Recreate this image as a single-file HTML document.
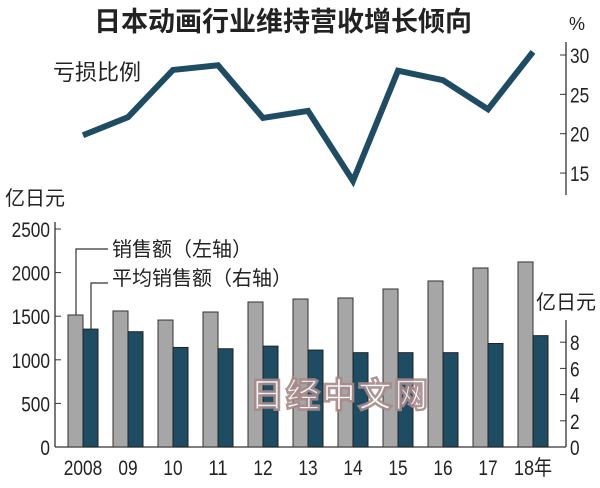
<!DOCTYPE html>
<html><head><meta charset="utf-8"><style>
body{margin:0;background:#fff}
svg text{font-family:"Liberation Sans","Noto Sans CJK SC",sans-serif;fill:#222}
.cjk{font-family:"Liberation Sans","Noto Sans CJK SC",sans-serif}
</style></head><body>
<svg id="c" width="600" height="483" viewBox="0 0 600 483" xmlns="http://www.w3.org/2000/svg">
<text class="cjk" x="283" y="31" font-size="27" font-weight="bold" text-anchor="middle">日本动画行业维持营收增长倾向</text>
<text x="577" y="30" font-size="18" text-anchor="middle">%</text>
<text class="cjk" x="53" y="80" font-size="22">亏损比例</text>
<text class="cjk" x="5" y="205" font-size="20">亿日元</text>
<text class="cjk" x="536" y="309" font-size="20">亿日元</text>
<text class="cjk" x="112" y="256" font-size="20">销售额（左轴）</text>
<text class="cjk" x="112" y="285" font-size="20">平均销售额（右轴）</text>
<g id="marks"></g>
<g opacity="0.9"><text class="cjk" x="340" y="407" font-size="34" font-weight="bold" text-anchor="middle" style="fill:#fff;stroke:#a88a8a;stroke-width:2.5;letter-spacing:2px">日经中文网</text></g>
</svg>
<script>
const years=["2008","09","10","11","12","13","14","15","16","17","18年"];
const sales=[1514,1560,1456,1548,1663,1697,1709,1812,1904,2053,2122];
const avgSales=[9.0,8.8,7.6,7.5,7.7,7.4,7.2,7.2,7.2,7.9,8.5];
const lossRatio=[19.8,22.1,28.1,28.7,22.0,22.9,14.0,28.0,26.8,23.1,30.4];
const leftTicks=[0,500,1000,1500,2000,2500];
const rightTicks=[0,2,4,6,8];
const lineTicks=[15,20,25,30];
const NS="http://www.w3.org/2000/svg";
const g=document.getElementById('marks');
function el(t,a,p){const e=document.createElementNS(NS,t);for(const k in a)e.setAttribute(k,a[k]);(p||g).appendChild(e);return e;}
function txt(s,a){const t=el('text',a);t.textContent=s;const n=String(s).replace('年','').length;t.setAttribute('textLength',n*9.6+(String(s).includes('年')?19:0));t.setAttribute('lengthAdjust','spacingAndGlyphs');return t;}
const base=447;
const yL=v=>base-v*0.0872;
const yR=v=>base-v*13.1;
const yP=v=>55+(30-v)*7.87;
const xG=i=>68+45*i;
let a=el('line',{x1:55,y1:222,x2:55,y2:base,stroke:'#333','stroke-width':1.3});


a=el('line',{x1:55,y1:base,x2:566,y2:base,stroke:'#333','stroke-width':1.3});


a=el('line',{x1:566,y1:320,x2:566,y2:base,stroke:'#333','stroke-width':1.3});


a=el('line',{x1:566,y1:42,x2:566,y2:195,stroke:'#333','stroke-width':1.3});


leftTicks.forEach(v=>{
 const y=yL(v);
 el('line',{x1:55,y1:y,x2:61,y2:y,stroke:'#333'});
 const t=txt(v,{x:50,y:y+8,'font-size':21,'text-anchor':'end'});
 
 
});
rightTicks.forEach(v=>{
 const y=yR(v);
 el('line',{x1:560,y1:y,x2:566,y2:y,stroke:'#333'});
 const t=txt(v,{x:570,y:y+8,'font-size':21});
 
 
});
lineTicks.forEach(v=>{
 const y=yP(v);
 el('line',{x1:560,y1:y,x2:566,y2:y,stroke:'#333'});
 const t=txt(v,{x:570,y:y+8,'font-size':21});
 
 
});
years.forEach((yr,i)=>{
 const x=xG(i);
 let r=el('rect',{x:x,y:yL(sales[i]),width:15,height:base-yL(sales[i]),fill:'#a6a6a6',stroke:'#333','stroke-width':1});
 
 
 r=el('rect',{x:x+15,y:yR(avgSales[i]),width:15,height:base-yR(avgSales[i]),fill:'#1e4c62',stroke:'#222','stroke-width':1});
 
 
 const t=txt(yr,{x:x+15,y:475,'font-size':21,'text-anchor':'middle'});
 
 
});
let l=el('polyline',{points:`${xG(0)+8},${yL(sales[0])} ${xG(0)+8},249 108,249`,fill:'none',stroke:'#333','stroke-width':1.2});


l=el('polyline',{points:`${xG(0)+23},${yR(avgSales[0])} ${xG(0)+23},283 108,283`,fill:'none',stroke:'#333','stroke-width':1.2});


const pts=lossRatio.map((v,i)=>(xG(i)+15)+','+yP(v)).join(' ');
const pl=el('polyline',{points:pts,fill:'none',stroke:'#1e4c62','stroke-width':6,'stroke-linejoin':'miter'});


</script>
</body></html>
